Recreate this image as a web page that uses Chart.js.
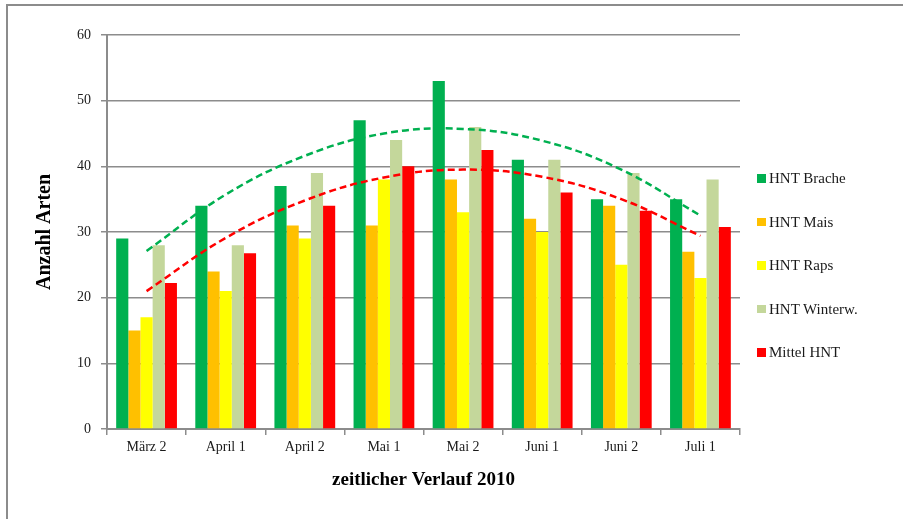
<!DOCTYPE html>
<html>
<head>
<meta charset="utf-8">
<script src="https://cdn.jsdelivr.net/npm/chart.js@4"></script>
<style>
html,body{margin:0;padding:0;background:#fff;overflow:hidden;}
#wrap{position:relative;width:903px;height:519px;overflow:hidden;background:#fff;}
#frame{position:absolute;left:6px;top:4px;width:2000px;height:2000px;border:2px solid #8c8c8c;box-sizing:border-box;}
#c{position:absolute;left:0;top:0;}
#legend{position:absolute;left:757px;top:0;width:140px;height:519px;font-family:"Liberation Serif",serif;font-size:15px;color:#1a1a1a;}
.item{position:absolute;left:0;height:18px;line-height:18px;white-space:nowrap;}
.box{position:absolute;left:0;top:5px;width:8.5px;height:8.5px;}
.txt{position:absolute;left:12px;top:0;}
</style>
</head>
<body>
<div id="wrap">
  <div id="frame"></div>
  <canvas id="c" width="903" height="519"></canvas>
  <div id="legend"></div>
</div>
<script>
const categories = ['März 2','April 1','April 2','Mai 1','Mai 2','Juni 1','Juni 2','Juli 1'];
const seriesNames = ['HNT Brache','HNT Mais','HNT Raps','HNT Winterw.','Mittel HNT'];
const brache  = [29, 34, 37, 47, 53, 41, 35, 35];
const mais    = [15, 24, 31, 31, 38, 32, 34, 27];
const raps    = [17, 21, 29, 38, 33, 30, 25, 23];
const winterw = [28, 28, 39, 44, 46, 41, 39, 38];
const mittel  = [22.25, 26.75, 34, 40, 42.5, 36, 33.25, 30.75];
const trendBrache = [27.1, 35.7, 41.6, 45.0, 45.7, 43.9, 39.5, 32.5];
const trendMittel = [21.0, 29.1, 34.8, 38.3, 39.5, 38.4, 35.0, 29.4];
const yMin = 0, yMax = 60, yStep = 10;

const colors = ['#00B050','#FFC000','#FFFF00','#C4D79B','#FF0000'];
const values = [brache, mais, raps, winterw, mittel];

const serif = '"Liberation Serif", "Times New Roman", serif';
const gridGray = '#8c8c8c';

const barSets = values.map((v, i) => ({
  type: 'bar',
  label: seriesNames[i],
  data: v,
  backgroundColor: colors[i],
  borderWidth: 0,
  categoryPercentage: 0.768,
  barPercentage: 1.0,
  order: 2
}));

const trendSet = (data, color) => ({
  type: 'line',
  label: 'trend',
  data: data,
  borderColor: color,
  borderWidth: 2.5,
  borderDash: [7, 4],
  pointRadius: 0,
  fill: false,
  tension: 0.4,
  order: 0
});

const chart = new Chart(document.getElementById('c'), {
  type: 'bar',
  data: {
    labels: categories,
    datasets: [...barSets, trendSet(trendBrache, '#00B050'), trendSet(trendMittel, '#FF0000')]
  },
  options: {
    responsive: false,
    animation: false,
    devicePixelRatio: 1,
    layout: { padding: { left: 0, right: 163, top: 35, bottom: 0 } },
    plugins: { legend: { display: false }, tooltip: { enabled: false } },
    scales: {
      x: {
        offset: true,
        grid: { offset: true, drawOnChartArea: false, drawTicks: true, tickLength: 6, color: gridGray, lineWidth: 1.5 },
        border: { color: gridGray, width: 2 },
        ticks: { font: { family: serif, size: 14 }, color: '#1a1a1a', padding: 4, maxRotation: 0 },
        title: { display: true, text: 'zeitlicher Verlauf 2010', color: '#000',
                 font: { family: serif, size: 19, weight: 'bold' }, padding: { top: 0, bottom: 28 } },
        afterFit: s => { s.height = 90; }
      },
      y: {
        min: yMin, max: yMax,
        ticks: { stepSize: yStep, font: { family: serif, size: 14 }, color: '#1a1a1a', padding: 10 },
        grid: { color: gridGray, lineWidth: 1.5, tickLength: 6 },
        border: { color: gridGray, width: 2 },
        title: { display: true, text: 'Anzahl Arten', color: '#000',
                 font: { family: serif, size: 20, weight: 'bold' }, padding: { top: 33, bottom: 0 } },
        afterFit: s => { s.width = 107; }
      }
    }
  }
});

// legend (HTML) built from the chart's bar datasets
const legendEl = document.getElementById('legend');
const legendCenters = [178, 221.5, 265, 308.5, 352];
chart.data.datasets.filter(d => d.type === 'bar').forEach((d, i) => {
  const it = document.createElement('div');
  it.className = 'item';
  it.style.top = (legendCenters[i] - 9) + 'px';
  const b = document.createElement('span');
  b.className = 'box';
  b.style.background = d.backgroundColor;
  const t = document.createElement('span');
  t.className = 'txt';
  t.textContent = d.label;
  it.appendChild(b); it.appendChild(t);
  legendEl.appendChild(it);
});
</script>
</body>
</html>
